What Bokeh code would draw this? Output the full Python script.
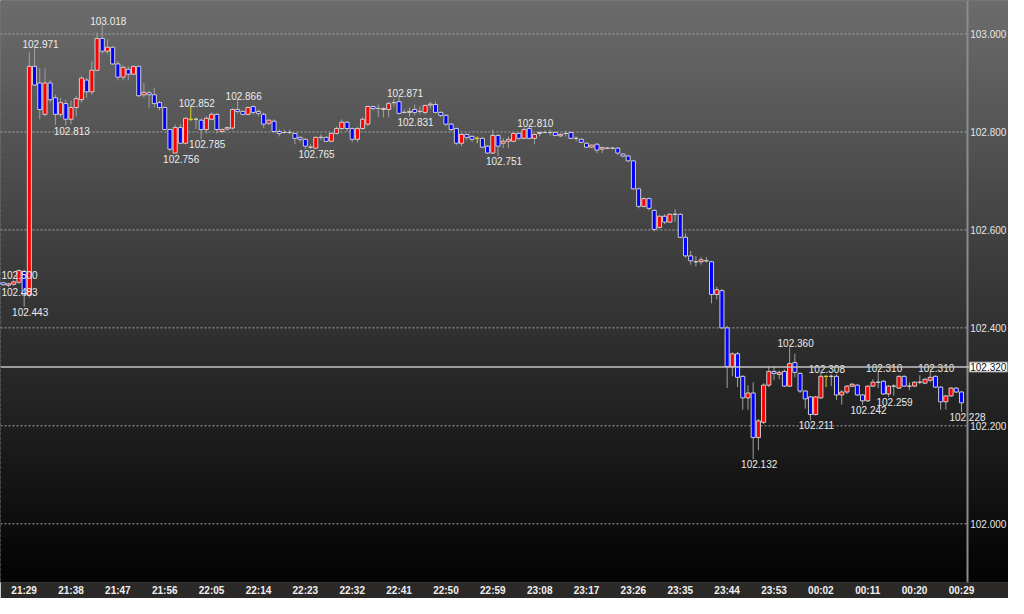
import numpy as np
from bokeh.plotting import figure
from bokeh.models import Range1d, LinearAxis, FixedTicker, PrintfTickFormatter, Span, Label
from bokeh.core.properties import value
from bokeh.embed import file_html
from bokeh.resources import INLINE

# minute index: 0 = 21:29
minutes = list(range(-5, 181))

opens = [
    102.492, 102.492, 102.487, 102.489, 102.493,
    102.515, 102.467, 102.934, 102.900, 102.836, 102.900, 102.870, 102.836, 102.858, 102.826,
    102.850, 102.866, 102.906, 102.882, 102.926, 102.991, 102.965, 102.973, 102.939, 102.912,
    102.928, 102.918, 102.934, 102.876, 102.880, 102.876, 102.860, 102.850, 102.805, 102.757,
    102.809, 102.777, 102.826, 102.826, 102.824, 102.805, 102.826, 102.836, 102.801, 102.806,
    102.808, 102.846, 102.842, 102.836, 102.852, 102.842, 102.836, 102.818, 102.822, 102.801,
    102.799, 102.799, 102.797, 102.789, 102.785, 102.769, 102.767, 102.789, 102.789, 102.781,
    102.797, 102.807, 102.820, 102.807, 102.785, 102.807, 102.816, 102.852, 102.848, 102.846,
    102.846, 102.860, 102.862, 102.840, 102.840, 102.846, 102.842, 102.840, 102.855, 102.856,
    102.840, 102.834, 102.816, 102.807, 102.777, 102.795, 102.791, 102.787, 102.787, 102.771,
    102.757, 102.793, 102.777, 102.781, 102.781, 102.797, 102.787, 102.807, 102.787, 102.797,
    102.799, 102.799, 102.799, 102.792, 102.797, 102.799, 102.787, 102.785, 102.777, 102.769,
    102.775, 102.765, 102.767, 102.767, 102.767, 102.755, 102.751, 102.741, 102.684, 102.648,
    102.664, 102.640, 102.605, 102.628, 102.616, 102.632, 102.632, 102.585, 102.547, 102.535,
    102.535, 102.537, 102.535, 102.468, 102.476, 102.400, 102.321, 102.347, 102.301, 102.257,
    102.267, 102.176, 102.207, 102.283, 102.311, 102.305, 102.311, 102.281, 102.329, 102.307,
    102.271, 102.259, 102.223, 102.257, 102.301, 102.301, 102.301, 102.263, 102.269, 102.281,
    102.283, 102.263, 102.251, 102.281, 102.289, 102.291, 102.265, 102.281, 102.277, 102.301,
    102.281, 102.281, 102.289, 102.287, 102.293, 102.301, 102.279, 102.249, 102.261, 102.277,
    102.269,
]
highs = [
    102.500, 102.494, 102.492, 102.497, 102.519,
    102.519, 102.963, 102.971, 102.930, 102.930, 102.906, 102.876, 102.870, 102.866, 102.864,
    102.874, 102.914, 102.910, 102.945, 103.003, 103.018, 102.989, 102.975, 102.945, 102.936,
    102.934, 102.936, 102.934, 102.900, 102.884, 102.890, 102.864, 102.852, 102.807, 102.815,
    102.816, 102.830, 102.852, 102.830, 102.828, 102.832, 102.840, 102.839, 102.807, 102.811,
    102.848, 102.866, 102.844, 102.852, 102.854, 102.846, 102.840, 102.826, 102.826, 102.805,
    102.805, 102.805, 102.797, 102.791, 102.787, 102.775, 102.791, 102.795, 102.791, 102.799,
    102.811, 102.826, 102.822, 102.809, 102.811, 102.830, 102.854, 102.854, 102.856, 102.850,
    102.862, 102.868, 102.871, 102.846, 102.850, 102.856, 102.852, 102.856, 102.862, 102.862,
    102.842, 102.836, 102.818, 102.809, 102.797, 102.797, 102.793, 102.791, 102.789, 102.773,
    102.805, 102.795, 102.787, 102.791, 102.799, 102.799, 102.809, 102.810, 102.797, 102.801,
    102.803, 102.805, 102.801, 102.797, 102.803, 102.801, 102.791, 102.787, 102.779, 102.775,
    102.777, 102.770, 102.769, 102.769, 102.769, 102.757, 102.753, 102.743, 102.686, 102.666,
    102.666, 102.642, 102.630, 102.632, 102.634, 102.642, 102.634, 102.593, 102.557, 102.547,
    102.545, 102.545, 102.537, 102.484, 102.480, 102.404, 102.350, 102.351, 102.303, 102.283,
    102.289, 102.214, 102.287, 102.321, 102.321, 102.313, 102.315, 102.360, 102.347, 102.309,
    102.273, 102.261, 102.261, 102.308, 102.303, 102.305, 102.305, 102.273, 102.283, 102.287,
    102.285, 102.265, 102.283, 102.295, 102.310, 102.293, 102.283, 102.285, 102.303, 102.303,
    102.289, 102.291, 102.303, 102.297, 102.310, 102.303, 102.281, 102.263, 102.279, 102.279,
    102.271,
]
lows = [
    102.488, 102.486, 102.483, 102.486, 102.490,
    102.443, 102.462, 102.894, 102.826, 102.832, 102.860, 102.814, 102.830, 102.813, 102.816,
    102.832, 102.860, 102.870, 102.876, 102.924, 102.960, 102.959, 102.937, 102.906, 102.906,
    102.906, 102.916, 102.872, 102.870, 102.850, 102.850, 102.844, 102.805, 102.761, 102.756,
    102.775, 102.775, 102.822, 102.806, 102.785, 102.797, 102.824, 102.797, 102.797, 102.803,
    102.805, 102.838, 102.834, 102.834, 102.836, 102.832, 102.808, 102.814, 102.799, 102.791,
    102.797, 102.795, 102.775, 102.779, 102.765, 102.765, 102.765, 102.783, 102.779, 102.779,
    102.795, 102.805, 102.801, 102.779, 102.779, 102.805, 102.812, 102.844, 102.830, 102.830,
    102.830, 102.852, 102.836, 102.838, 102.831, 102.834, 102.836, 102.836, 102.848, 102.838,
    102.830, 102.812, 102.801, 102.773, 102.771, 102.783, 102.779, 102.777, 102.767, 102.755,
    102.755, 102.751, 102.767, 102.767, 102.779, 102.783, 102.785, 102.785, 102.775, 102.791,
    102.797, 102.793, 102.791, 102.790, 102.791, 102.785, 102.781, 102.777, 102.767, 102.767,
    102.757, 102.757, 102.765, 102.765, 102.753, 102.749, 102.739, 102.682, 102.644, 102.646,
    102.640, 102.597, 102.603, 102.612, 102.614, 102.616, 102.583, 102.543, 102.529, 102.525,
    102.529, 102.533, 102.450, 102.458, 102.398, 102.277, 102.301, 102.279, 102.233, 102.233,
    102.132, 102.150, 102.204, 102.279, 102.293, 102.295, 102.279, 102.279, 102.299, 102.267,
    102.235, 102.211, 102.221, 102.255, 102.279, 102.281, 102.253, 102.243, 102.265, 102.279,
    102.261, 102.242, 102.249, 102.279, 102.277, 102.263, 102.259, 102.261, 102.275, 102.279,
    102.273, 102.279, 102.285, 102.285, 102.289, 102.277, 102.233, 102.233, 102.259, 102.267,
    102.228,
]
closes = [
    102.490, 102.488, 102.490, 102.494, 102.517,
    102.467, 102.934, 102.896, 102.846, 102.900, 102.866, 102.836, 102.860, 102.826, 102.850,
    102.868, 102.910, 102.882, 102.926, 102.991, 102.965, 102.973, 102.939, 102.912, 102.932,
    102.918, 102.934, 102.874, 102.881, 102.876, 102.858, 102.850, 102.805, 102.765, 102.809,
    102.777, 102.828, 102.826, 102.826, 102.805, 102.828, 102.836, 102.805, 102.805, 102.809,
    102.846, 102.842, 102.836, 102.850, 102.840, 102.838, 102.816, 102.824, 102.801, 102.797,
    102.799, 102.799, 102.787, 102.785, 102.771, 102.769, 102.789, 102.789, 102.781, 102.797,
    102.807, 102.820, 102.807, 102.785, 102.807, 102.826, 102.852, 102.848, 102.848, 102.848,
    102.858, 102.860, 102.838, 102.840, 102.842, 102.840, 102.842, 102.854, 102.857, 102.840,
    102.834, 102.816, 102.805, 102.777, 102.795, 102.789, 102.785, 102.787, 102.769, 102.757,
    102.793, 102.771, 102.781, 102.785, 102.797, 102.787, 102.805, 102.787, 102.795, 102.799,
    102.799, 102.799, 102.793, 102.795, 102.797, 102.787, 102.787, 102.779, 102.769, 102.773,
    102.763, 102.768, 102.767, 102.767, 102.757, 102.751, 102.741, 102.684, 102.648, 102.664,
    102.644, 102.601, 102.628, 102.616, 102.632, 102.632, 102.585, 102.547, 102.537, 102.535,
    102.539, 102.537, 102.468, 102.478, 102.400, 102.321, 102.347, 102.299, 102.257, 102.267,
    102.176, 102.210, 102.283, 102.311, 102.307, 102.309, 102.281, 102.327, 102.309, 102.271,
    102.255, 102.223, 102.259, 102.301, 102.301, 102.301, 102.263, 102.269, 102.281, 102.285,
    102.263, 102.251, 102.281, 102.289, 102.289, 102.265, 102.281, 102.281, 102.301, 102.281,
    102.281, 102.289, 102.289, 102.295, 102.299, 102.279, 102.249, 102.261, 102.277, 102.269,
    102.247,
]
yellow_minutes = [32, 87, 154]

tick_minutes = [0, 9, 18, 27, 36, 45, 54, 63, 72, 81, 90, 99, 108, 117, 126, 135, 144, 153, 162, 171, 180]
tick_labels = ["21:29", "21:38", "21:47", "21:56", "22:05", "22:14", "22:23", "22:32", "22:41",
               "22:50", "22:59", "23:08", "23:17", "23:26", "23:35", "23:44", "23:53", "00:02",
               "00:11", "00:20", "00:29"]
price_ticks = [102.0, 102.2, 102.4, 102.6, 102.8, 103.0]
current_price = 102.320

high_label_minutes = [-5, 2, 15, 32, 41, 72, 97, 147, 153, 164, 174]
low_label_minutes = [-3, 0, 8, 29, 34, 55, 74, 91, 140, 151, 161, 166, 180]

# ---------------- layout constants ----------------
X_START, X_END = -4.54, 189.03
Y_START, Y_END = 101.880, 103.0685
SEP_X = 181.1
LABEL_FONT = "Liberation Sans"
LABEL_SIZE = "10px"

p = figure(width=1008, height=598,
           x_range=Range1d(X_START, X_END), y_range=Range1d(Y_START, Y_END),
           output_backend="svg", toolbar_location=None,
           y_axis_location=None, x_axis_location="below",
           min_border_left=0, min_border_right=0, min_border_top=0, min_border_bottom=15,
           background_fill_color="#000000", border_fill_color="#2b2828",
           outline_line_color=None)

# vertical background gradient (decoration)
n_bands = 120
edges = np.linspace(Y_END, Y_START, n_bands + 1)
step = (Y_END - Y_START) / n_bands
shades = np.linspace(108, 3, n_bands).round().astype(int)
band_colors = ["#%02x%02x%02x" % (s, s, s) for s in shades]
p.quad(left=X_START - 1, right=X_END + 1, top=edges[:-1] + step * 0.4, bottom=edges[1:],
       fill_color=band_colors, line_color=None)

# dashed grid lines stopping at the separator
p.segment(x0=X_START, x1=SEP_X, y0=price_ticks, y1=price_ticks,
          line_color="#a8a8a8", line_dash="2 2", line_width=1)

# candles
wick_colors, body_fill, body_line, tops, bottoms = [], [], [], [], []
for m, o, c in zip(minutes, opens, closes):
    yellow = m in yellow_minutes
    wick_colors.append("#e0d020" if yellow else "#a0a0a0")
    if c > o:
        body_fill.append("#ff0000")
    elif c < o:
        body_fill.append("#0000ff")
    else:
        body_fill.append(None)
    body_line.append("#e0d020" if yellow else "#cfcfcf")
    tops.append(max(o, c))
    bottoms.append(min(o, c))

p.segment(x0=minutes, x1=minutes, y0=lows, y1=highs, line_color=wick_colors, line_width=1)
p.vbar(x=minutes, width=0.78, top=tops, bottom=bottoms,
       fill_color=body_fill, line_color=body_line, line_width=1)

# high / low value labels (labels that would run off the left edge start at the edge)
EDGE_MIN = -2
text_style = dict(text_color="#ececec", text_font=value(LABEL_FONT), text_font_size=LABEL_SIZE)

h_in = [m for m in high_label_minutes if m >= EDGE_MIN]
h_edge = [m for m in high_label_minutes if m < EDGE_MIN]
l_in = [m for m in low_label_minutes if m >= EDGE_MIN]
l_edge = [m for m in low_label_minutes if m < EDGE_MIN]

def vals(ms, arr):
    return [arr[minutes.index(m)] for m in ms]

hy = vals(h_in, highs)
p.text(x=h_in, y=hy, text=[f"{v:.3f}" for v in hy], text_align="center", text_baseline="bottom",
       x_offset=6, y_offset=0, **text_style)
ly = vals(l_in, lows)
p.text(x=l_in, y=ly, text=[f"{v:.3f}" for v in ly], text_align="center", text_baseline="top",
       x_offset=6, y_offset=1, **text_style)
hey = vals(h_edge, highs)
p.text(x=[X_START] * len(hey), y=hey, text=[f"{v:.3f}" for v in hey], text_align="left",
       text_baseline="bottom", x_offset=1, y_offset=0, **text_style)
ley = vals(l_edge, lows)
p.text(x=[X_START] * len(ley), y=ley, text=[f"{v:.3f}" for v in ley], text_align="left",
       text_baseline="top", x_offset=1, y_offset=1, **text_style)

# current price line
p.add_layout(Span(location=current_price, dimension="width", line_color="#c4c4c4", line_width=1.5))

# right price axis drawn at the separator
yax = LinearAxis(fixed_location=SEP_X, ticker=FixedTicker(ticks=price_ticks),
                 formatter=PrintfTickFormatter(format="%.3f"),
                 axis_line_color="#8c8c8c", axis_line_width=2,
                 major_tick_out=0, major_tick_in=0, minor_tick_out=0, minor_tick_in=0,
                 major_label_standoff=3, major_label_text_color="#e6e6e6",
                 major_label_text_font=LABEL_FONT, major_label_text_font_size=LABEL_SIZE)
p.add_layout(yax, "right")

# current price tag
p.add_layout(Label(x=SEP_X, y=current_price, text=f"{current_price:.3f}", x_offset=2,
                   text_baseline="middle", text_align="left", text_color="#111111",
                   text_font=LABEL_FONT, text_font_size=LABEL_SIZE,
                   background_fill_color="#ffffff", background_fill_alpha=1.0,
                   border_line_color="#8a8a8a", border_line_width=1,
                   padding=1, level="overlay"))

# time axis
xa = p.xaxis[0]
xa.ticker = FixedTicker(ticks=tick_minutes)
xa.major_label_overrides = {m: t for m, t in zip(tick_minutes, tick_labels)}
xa.axis_line_color = None
xa.major_tick_out = 0
xa.major_tick_in = 0
xa.minor_tick_out = 0
xa.minor_tick_in = 0
xa.major_label_standoff = 2
xa.major_label_text_color = "#f0f0f0"
xa.major_label_text_font = LABEL_FONT
xa.major_label_text_font_style = "bold"
xa.major_label_text_font_size = "10px"

p.xgrid.visible = False
p.ygrid.visible = False

open("out.html", "w").write(file_html(p, INLINE))
